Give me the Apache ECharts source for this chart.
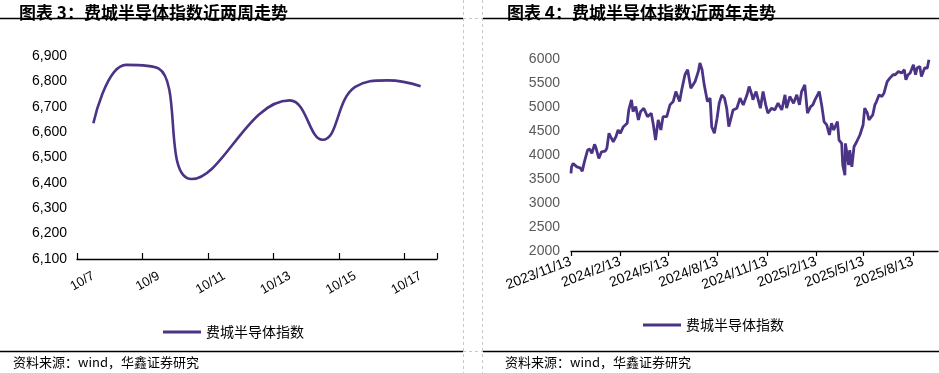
<!DOCTYPE html>
<html><head><meta charset="utf-8">
<script src="https://cdn.jsdelivr.net/npm/echarts@6/dist/echarts.min.js"></script>
<style>html,body{margin:0;padding:0;background:#fff}#c{width:939px;height:373px}</style>
</head><body><div id="c"></div>
<script>
// ---- Chart 3: last two weeks ----
const weekCats = ['10/7','10/8','10/9','10/10','10/11','10/12','10/13','10/14','10/15','10/16','10/17'];
const weekValues = [6635,6865,6850,6415,null,null,6725,6570,6778,6804,6781];
const weekYMin = 6100, weekYMax = 6900, weekYStep = 100;

// ---- Chart 4: last two years ----
const yearDates = ['2023-11-13','2023-11-14','2023-11-17','2023-11-24','2023-11-30','2023-12-04','2023-12-08','2023-12-14','2023-12-18','2023-12-22','2023-12-27','2023-12-29',
'2024-01-04','2024-01-09','2024-01-16','2024-01-19','2024-01-23','2024-01-26','2024-01-31','2024-02-05','2024-02-09','2024-02-13','2024-02-19','2024-02-26','2024-02-29',
'2024-03-05','2024-03-08','2024-03-13','2024-03-18','2024-03-22','2024-03-28','2024-04-04','2024-04-11','2024-04-15','2024-04-19','2024-04-24','2024-04-29','2024-05-03',
'2024-05-10','2024-05-16','2024-05-22','2024-05-27','2024-06-03','2024-06-07','2024-06-13','2024-06-18','2024-06-24','2024-07-02','2024-07-08','2024-07-11','2024-07-15',
'2024-07-19','2024-07-25','2024-07-30','2024-08-02','2024-08-07','2024-08-12','2024-08-16','2024-08-21','2024-08-26','2024-08-30','2024-09-03','2024-09-06','2024-09-11',
'2024-09-18','2024-09-24','2024-09-30','2024-10-07','2024-10-11','2024-10-17','2024-10-18','2024-10-24','2024-10-28','2024-11-01','2024-11-06','2024-11-11','2024-11-15',
'2024-11-22','2024-11-28','2024-12-04','2024-12-11','2024-12-17','2024-12-20','2024-12-26','2025-01-02','2025-01-08','2025-01-13','2025-01-17','2025-01-23','2025-01-28',
'2025-02-03','2025-02-07','2025-02-11','2025-02-14','2025-02-19','2025-02-24','2025-02-28','2025-03-05','2025-03-10','2025-03-14','2025-03-18','2025-03-25','2025-03-28',
'2025-04-02','2025-04-04','2025-04-08','2025-04-09','2025-04-15','2025-04-17','2025-04-21','2025-04-25','2025-04-30','2025-05-06','2025-05-12','2025-05-15','2025-05-20',
'2025-05-23','2025-05-30','2025-06-03','2025-06-06','2025-06-11','2025-06-16','2025-06-20','2025-06-26','2025-07-01','2025-07-07','2025-07-11','2025-07-17','2025-07-23',
'2025-07-28','2025-07-31','2025-08-04','2025-08-08','2025-08-14','2025-08-18','2025-08-21','2025-08-26','2025-08-29','2025-09-04','2025-09-09','2025-09-12'];
const yearValues = [3615,3753,3824,3753,3732,3663,3858,4103,4123,4033,4222,4172,
3929,4067,4082,4138,4452,4381,4276,4381,4521,4452,4590,4661,4939,
5149,4904,5008,4730,4904,4975,4799,4870,4626,4312,4730,4521,4799,
4799,5044,5113,5322,5113,5358,5672,5776,5393,5531,5741,5916,5776,
5462,5113,5184,4590,4452,4766,5079,5253,5184,4975,4590,4556,4939,
4975,5184,5044,5253,5427,5218,5149,5322,5149,4975,5322,5044,4870,
4975,4939,5079,4939,5253,4975,5218,5079,5253,5044,5322,5462,4870,
5008,5044,5149,5113,5322,5008,4695,4626,4417,4661,4521,4695,4312,
4243,3789,3580,4243,3789,4103,3753,4172,4276,4417,4626,4975,4870,
4730,4835,5044,5113,5253,5218,5288,5531,5602,5672,5672,5741,5707,
5776,5567,5672,5707,5881,5672,5812,5846,5637,5812,5812,5985];
const yearTickDates = ['2023-11-13','2024-02-13','2024-05-13','2024-08-13','2024-11-13','2025-02-13','2025-05-13','2025-08-13'];
const yearXMin = '2023-11-13', yearXMax = '2025-09-29';
const yearYMin = 2000, yearYMax = 6000, yearYStep = 500;

const seriesName = '费城半导体指数';
const title3 = '图表 3：费城半导体指数近两周走势';
const title4 = '图表 4：费城半导体指数近两年走势';
const sourceText = '资料来源：wind，华鑫证券研究';

const LINE = '#4b3386';
const CJK = '"Noto Sans CJK SC", sans-serif';
const LAT = '"Liberation Sans", Arial, sans-serif';

const chart = echarts.init(document.getElementById('c'), null, {renderer: 'canvas'});
const tp = s => Date.UTC(+s.slice(0, 4), +s.slice(5, 7) - 1, +s.slice(8, 10));
const tickVals = yearTickDates.map(tp);

function hline(x1, x2, y, dashed) {
  return {type: 'line', shape: {x1, y1: y, x2, y2: y},
    style: dashed ? {stroke: '#c8c8c8', lineWidth: 1, lineDash: [3, 3]} : {stroke: '#000', lineWidth: 1.5}};
}
function vline(x) {
  return {type: 'line', shape: {x1: x, y1: 0, x2: x, y2: 373},
    style: {stroke: '#c8c8c8', lineWidth: 1, lineDash: [3, 3]}};
}

chart.setOption({
  animation: false,
  backgroundColor: '#fff',
  title: [
    {text: title3, left: 14, top: -1, textStyle: {fontFamily: CJK, fontSize: 17, fontWeight: 'bold', color: '#000'}},
    {text: title4, left: 502, top: -1, textStyle: {fontFamily: CJK, fontSize: 17, fontWeight: 'bold', color: '#000'}},
    {text: sourceText, left: 8, top: 351, textStyle: {fontFamily: CJK, fontSize: 13, fontWeight: 'normal', color: '#000'}},
    {text: sourceText, left: 500, top: 351, textStyle: {fontFamily: CJK, fontSize: 13, fontWeight: 'normal', color: '#000'}}
  ],
  graphic: [
    hline(0, 463, 18.5), hline(483, 939, 18.5), hline(463, 483, 18.5, true),
    hline(0, 463, 351.5), hline(483, 939, 351.5), hline(463, 483, 351.5, true),
    vline(463.5), vline(482.5)
  ],
  legend: [
    {data: [seriesName], left: 158, top: 320, icon: 'rect', itemWidth: 38, itemHeight: 3, itemGap: 6,
      textStyle: {fontFamily: CJK, fontSize: 14, color: '#000'}},
    {data: [seriesName], left: 638, top: 313, icon: 'rect', itemWidth: 38, itemHeight: 3, itemGap: 6,
      textStyle: {fontFamily: CJK, fontSize: 14, color: '#000'}}
  ],
  grid: [
    {left: 77, top: 56, width: 360, height: 203},
    {left: 571, top: 59, width: 367, height: 192}
  ],
  xAxis: [
    {type: 'category', gridIndex: 0, data: weekCats, boundaryGap: true,
      axisLine: {lineStyle: {color: '#000', width: 1.3}},
      axisTick: {show: true, inside: true, length: 6, interval: 1, lineStyle: {color: '#000', width: 1.2}},
      axisLabel: {interval: 1, rotate: 30, margin: 16, fontFamily: LAT, fontSize: 13, color: '#000'},
      splitLine: {show: false}},
    {type: 'value', gridIndex: 1, min: tp(yearXMin), max: tp(yearXMax), scale: true,
      axisLine: {lineStyle: {color: '#000', width: 1.3}},
      axisTick: {show: true, length: 5, customValues: tickVals, lineStyle: {color: '#000', width: 1.2}},
      axisLabel: {customValues: tickVals, rotate: 21, margin: 10, fontFamily: LAT, fontSize: 14, color: '#000',
        formatter: v => { const d = new Date(v); return d.getUTCFullYear() + '/' + (d.getUTCMonth() + 1) + '/' + d.getUTCDate(); }},
      splitLine: {show: false}}
  ],
  yAxis: [
    {type: 'value', gridIndex: 0, min: weekYMin, max: weekYMax, interval: weekYStep,
      axisLine: {show: false}, axisTick: {show: false}, splitLine: {show: false},
      axisLabel: {margin: 10, fontFamily: LAT, fontSize: 14, color: '#000',
        formatter: v => Math.floor(v / 1000) + ',' + String(v % 1000).padStart(3, '0')}},
    {type: 'value', gridIndex: 1, min: yearYMin, max: yearYMax, interval: yearYStep,
      axisLine: {show: false}, axisTick: {show: false}, splitLine: {show: false},
      axisLabel: {margin: 11, fontFamily: LAT, fontSize: 14, color: '#595959', formatter: v => String(v)}}
  ],
  series: [
    {name: seriesName, type: 'line', xAxisIndex: 0, yAxisIndex: 0, data: weekValues, connectNulls: true,
      smooth: 0.45, showSymbol: false, lineStyle: {color: LINE, width: 2.6}, itemStyle: {color: LINE}},
    {name: seriesName, type: 'line', xAxisIndex: 1, yAxisIndex: 1,
      data: yearDates.map((d, i) => [tp(d), yearValues[i]]),
      showSymbol: false, lineStyle: {color: LINE, width: 2.8}, itemStyle: {color: LINE}}
  ]
});
</script></body></html>
